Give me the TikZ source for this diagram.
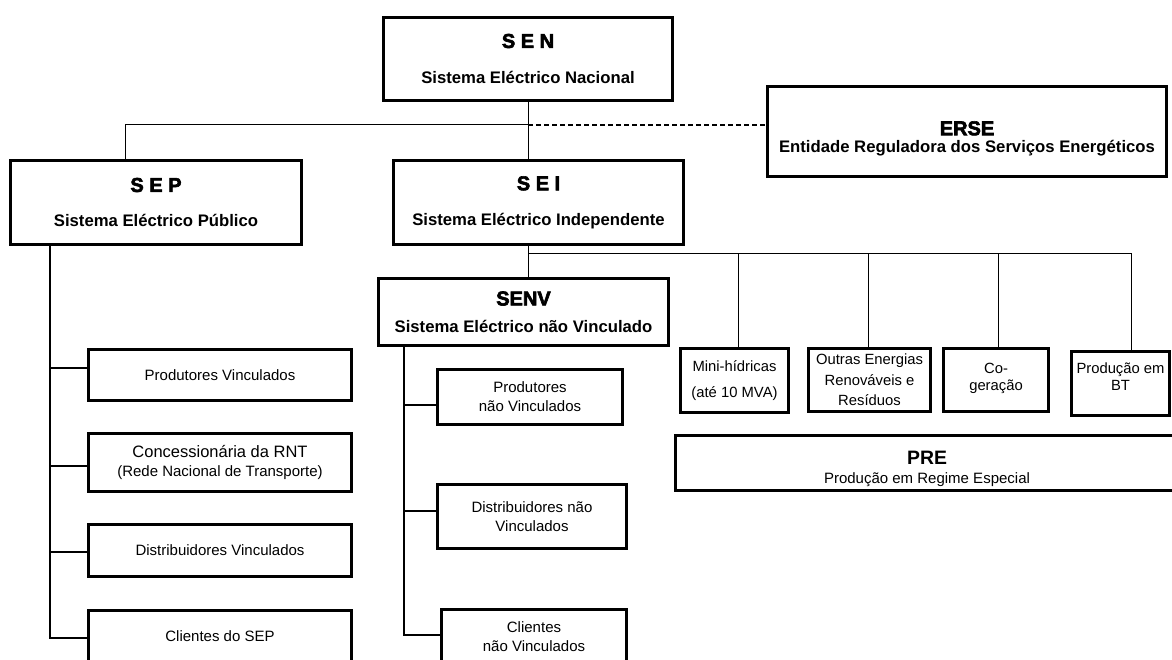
\documentclass[tikz,border=0pt]{standalone}
\usepackage{fontspec}
\setmainfont{Liberation Sans}
\newfontfamily\heavyfont{Liberation Sans Bold}[FakeBold=3]
\newcommand\boxtitle[1]{{\heavyfont\fontsize{20}{24}\selectfont #1}}
\tikzset{
  box/.style={draw, line width=2.8pt, align=center, inner sep=0pt},
  headbox/.style={box, font=\bfseries\fontsize{16.7}{20}\selectfont},
  unitbox/.style={box, font=\fontsize{15}{19}\selectfont},
  smallbox/.style={box, font=\fontsize{14.8}{17.5}\selectfont},
  link/.style={line width=1pt},
  spine/.style={line width=1.7pt},
}
\begin{document}
\begin{tikzpicture}[x=1pt, y=-1pt]
	\useasboundingbox (0,0) rectangle (1172,659);
	% top level
	\node[headbox, minimum width=289pt, minimum height=83pt] (sen) at (528,59) {\boxtitle{S E N}\\[16pt]Sistema Eléctrico Nacional};
	\node[headbox, minimum width=399pt, minimum height=90pt] (erse) at (967,131.5) {\rule{0pt}{28pt}\boxtitle{ERSE}\\[-3pt]Entidade Reguladora dos Serviços Energéticos};
	\node[headbox, minimum width=291pt, minimum height=84pt] (sep) at (156,202.5) {\boxtitle{S E P}\\[15pt]Sistema Eléctrico Público};
	\node[headbox, minimum width=290pt, minimum height=84pt] (sei) at (538.5,202.5) {\boxtitle{S E I}\\[15pt]Sistema Eléctrico Independente};
	\node[headbox, minimum width=290pt, minimum height=67pt] (senv) at (523.5,312) {\boxtitle{SENV}\\[7pt]Sistema Eléctrico não Vinculado};
	% SEP
	\node[unitbox, minimum width=263pt, minimum height=51pt] (pv) at (220,375) {Produtores Vinculados};
	\node[unitbox, minimum width=263pt, minimum height=58pt] (rnt) at (220,462.5) {{\fontsize{16.5}{20}\selectfont Concessionária da RNT}\\(Rede Nacional de Transporte)};
	\node[unitbox, minimum width=263pt, minimum height=52pt] (dv) at (220,550.5) {Distribuidores Vinculados};
	\node[unitbox, minimum width=263pt, minimum height=52pt] (csep) at (220,636.5) {Clientes do SEP};
	% SENV
	\node[unitbox, minimum width=185pt, minimum height=55pt] (pnv) at (530,397) {Produtores\\não Vinculados};
	\node[unitbox, minimum width=189pt, minimum height=64pt] (dnv) at (532,516.5) {Distribuidores não\\Vinculados};
	\node[unitbox, minimum width=185pt, minimum height=55pt] (cnv) at (534,637) {Clientes\\não Vinculados};
	% PRE
	\node[smallbox, minimum width=108pt, minimum height=64pt] (mini) at (734.5,380.5) {Mini-hídricas\\[9pt](até 10 MVA)};
	\node[smallbox, minimum width=122pt, minimum height=63pt] (outras) at (869.5,380) {Outras Energias\\[3pt]Renováveis e\\[3pt]Resíduos};
	\node[smallbox, minimum width=105pt, minimum height=63pt] (cogen) at (996,380) {Co-\\geração\\[-11.5pt]};
	\node[smallbox, minimum width=98pt, minimum height=64pt] (bt) at (1120.5,383.5) {Produção em\\BT\\[-3.5pt]};
	\node[box, minimum width=503pt, minimum height=55pt, font=\fontsize{15}{19}\selectfont] (pre) at (927,463) {\rule{0pt}{26pt}{\bfseries\fontsize{19.4}{22}\selectfont PRE}\\[0pt]Produção em Regime Especial};

	% connectors
	\coordinate (hub) at ([yshift=-23pt]sen.south);
	\draw[link] (sen.south) -- (sen.south |- sei.north);
	\draw[link] (hub) -| ([xshift=-31pt]sep.north);
	\draw[line width=1.6pt, dash pattern=on 5pt off 3pt] (hub) -- (hub -| erse.west);
	\coordinate (seibus) at ([yshift=-8pt]sen.south |- sei.south);
	\draw[link] (sen.south |- sei.south) -- (sen.south |- senv.north);
	\draw[link] (seibus) -| ([xshift=10.5pt]bt.north);
	\foreach \n/\dx in {mini/3.5, outras/-1.5, cogen/2}
		\draw[link] ([xshift=\dx pt]\n.north) -- ([xshift=\dx pt]\n.north |- seibus);
	\coordinate (sepspine) at ([xshift=-106pt]sep.south);
	\draw[spine] (sepspine) |- ([yshift=-1.5pt]csep.west);
	\foreach \n/\dy in {pv/7, rnt/-3.5, dv/-1.5}
		\draw[spine] ([yshift=\dy pt]\n.west) -| (sepspine);
	\coordinate (senvspine) at ([xshift=-119.5pt]senv.south);
	\draw[spine] (senvspine) |- ([yshift=2pt]cnv.west);
	\foreach \n/\dy in {pnv/-8, dnv/5.5}
		\draw[spine] ([yshift=\dy pt]\n.west) -| (senvspine);
\end{tikzpicture}
\end{document}
